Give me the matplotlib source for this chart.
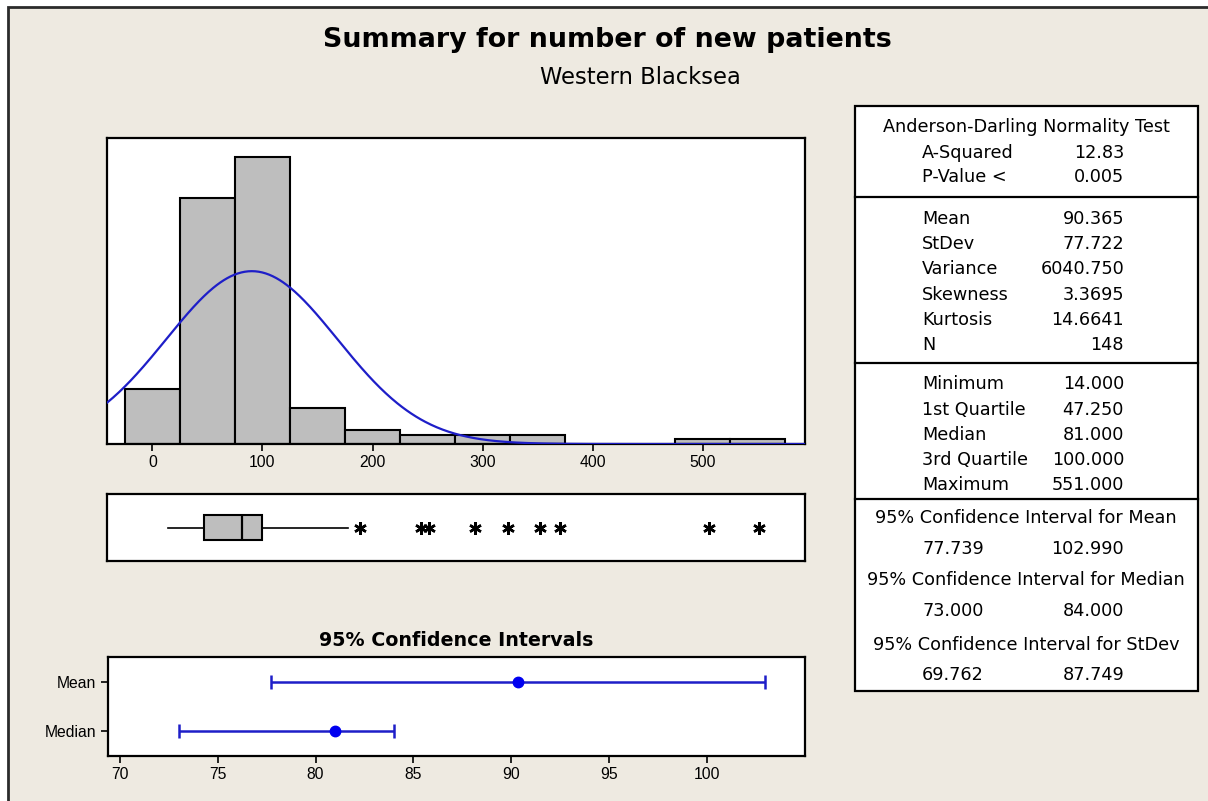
import numpy as np
import matplotlib
matplotlib.use("Agg")
import matplotlib.pyplot as plt
from matplotlib import font_manager
from matplotlib.patches import Rectangle

# ---------------- data ----------------
bin_centers = [0, 50, 100, 150, 200, 250, 300, 350, 400, 450, 500, 550]
bin_counts = [12, 54, 63, 8, 3, 2, 2, 2, 0, 0, 1, 1]
bin_width = 50
hist_ticks = [0, 100, 200, 300, 400, 500]

n_obs = 148
mean_val = 90.365
sd_val = 77.722

box_min = 14.0
box_q1 = 47.25
box_med = 81.0
box_q3 = 100.0
box_whis_hi = 178.0
box_outliers = [189, 244, 251, 293, 323, 352, 370, 506, 551]

ci_labels = ["Mean", "Median"]
ci_centers = [90.365, 81.0]
ci_low = [77.739, 73.0]
ci_high = [102.990, 84.0]
ci_ticks = [70, 75, 80, 85, 90, 95, 100]

ad_rows = [("A-Squared", "12.83"), ("P-Value <", "0.005")]
moment_rows = [("Mean", "90.365"), ("StDev", "77.722"), ("Variance", "6040.750"),
               ("Skewness", "3.3695"), ("Kurtosis", "14.6641"), ("N", "148")]
quant_rows = [("Minimum", "14.000"), ("1st Quartile", "47.250"), ("Median", "81.000"),
              ("3rd Quartile", "100.000"), ("Maximum", "551.000")]
ci_rows = [("95% Confidence Interval for Mean", "77.739", "102.990"),
           ("95% Confidence Interval for Median", "73.000", "84.000"),
           ("95% Confidence Interval for StDev", "69.762", "87.749")]

title = "Summary for number of new patients"
subtitle = "Western Blacksea"
ci_title = "95% Confidence Intervals"

# ---------------- style ----------------
names = {f.name for f in font_manager.fontManager.ttflist}
if "Liberation Sans Narrow" in names:
    narrow, nfs = "Liberation Sans Narrow", 12.5
elif "Liberation Sans" in names:
    narrow, nfs = "Liberation Sans", 11.3
else:
    narrow, nfs = "DejaVu Sans", 10
BG = "#EEEAE1"
GRAY = "#BEBEBE"
BLUE = "#1E1EC8"

W, H = 1208, 801
fig = plt.figure(figsize=(W / 100, H / 100), dpi=100, facecolor="white")


def rect(l, t, r, b):
    return [l / W, 1 - b / H, (r - l) / W, (b - t) / H]


# background overlay axes in pixel coordinates
bg = fig.add_axes([0, 0, 1, 1], zorder=-1)
bg.set_xlim(0, W)
bg.set_ylim(H, 0)
bg.axis("off")
bg.add_patch(Rectangle((8, 7), W + 20, H + 20, facecolor=BG, edgecolor="#2b2b2b", lw=2))

bg.text(607, 40, title, ha="center", va="center", fontsize=19.4, fontweight="bold",
        family="DejaVu Sans", color="black")
bg.text(640, 78, subtitle, ha="center", va="center", fontsize=16.3,
        family="DejaVu Sans", color="black")
bg.text(456, 641, ci_title, ha="center", va="center", fontsize=13.7, fontweight="bold",
        family="DejaVu Sans", color="black")

# table
tl, tr, tt, tb = 855, 1197.5, 106, 691
bg.add_patch(Rectangle((tl, tt), tr - tl, tb - tt, facecolor="white", edgecolor="black", lw=1.6))
for yd in (197, 363, 499):
    bg.plot([tl, tr], [yd, yd], color="black", lw=1.6)
tc = (tl + tr) / 2
lab_x, val_x = 922, 1124
fs_t = 12.7
bg.text(tc, 127, "Anderson-Darling Normality Test", ha="center", va="center", fontsize=fs_t)
for (lab, val), y in zip(ad_rows, [153, 177]):
    bg.text(lab_x, y, lab, ha="left", va="center", fontsize=fs_t)
    bg.text(val_x, y, val, ha="right", va="center", fontsize=fs_t)
for (lab, val), y in zip(moment_rows, [219, 244, 269, 295, 320, 345]):
    bg.text(lab_x, y, lab, ha="left", va="center", fontsize=fs_t)
    bg.text(val_x, y, val, ha="right", va="center", fontsize=fs_t)
for (lab, val), y in zip(quant_rows, [384, 410, 435, 460, 485]):
    bg.text(lab_x, y, lab, ha="left", va="center", fontsize=fs_t)
    bg.text(val_x, y, val, ha="right", va="center", fontsize=fs_t)
for (lab, lo, hi), (yh, yv) in zip(ci_rows, [(518, 549), (580, 611), (645, 675)]):
    bg.text(tc, yh, lab, ha="center", va="center", fontsize=fs_t)
    bg.text(lab_x, yv, lo, ha="left", va="center", fontsize=fs_t)
    bg.text(val_x, yv, hi, ha="right", va="center", fontsize=fs_t)

xlim_hist = (-40.9, 592.8)


def style_spines(ax):
    for s in ax.spines.values():
        s.set_linewidth(1.6)
        s.set_color("black")


# ---------------- histogram ----------------
axh = fig.add_axes(rect(107.3, 138, 805, 444))
axh.set_facecolor("white")
cx = [c for c, k in zip(bin_centers, bin_counts) if k > 0]
ck = [k for k in bin_counts if k > 0]
axh.bar(cx, ck, width=bin_width, color=GRAY, edgecolor="black", linewidth=1.5, zorder=2)
xs = np.linspace(xlim_hist[0], xlim_hist[1], 600)
ys = n_obs * bin_width * np.exp(-0.5 * ((xs - mean_val) / sd_val) ** 2) / (sd_val * np.sqrt(2 * np.pi))
axh.plot(xs, ys, color=BLUE, lw=1.6, zorder=3)
axh.set_xlim(*xlim_hist)
axh.set_ylim(0, 67.25)
axh.set_yticks([])
axh.set_xticks(hist_ticks)
axh.set_xticklabels([str(t) for t in hist_ticks], family=narrow, fontsize=nfs)
axh.tick_params(axis="x", direction="out", length=5, width=1.2, pad=3)
style_spines(axh)

# ---------------- boxplot ----------------
axb = fig.add_axes(rect(107.3, 494.3, 805, 560.7))
axb.set_facecolor("white")
stats = [{"med": box_med, "q1": box_q1, "q3": box_q3, "whislo": box_min,
          "whishi": box_whis_hi, "fliers": box_outliers}]
axb.bxp(stats, positions=[0.5], widths=0.377, orientation="horizontal", showcaps=False,
        patch_artist=True,
        boxprops=dict(facecolor=GRAY, edgecolor="black", linewidth=1.5),
        medianprops=dict(color="black", linewidth=1.6),
        whiskerprops=dict(color="black", linewidth=1.2),
        flierprops=dict(marker=(6, 2, 0), markersize=9, markeredgecolor="black",
                        markeredgewidth=1.8, markerfacecolor="black", linestyle="none"))
axb.set_xlim(*xlim_hist)
axb.set_ylim(0, 1)
axb.set_xticks([])
axb.set_yticks([])
style_spines(axb)

# ---------------- confidence intervals ----------------
axc = fig.add_axes(rect(107.7, 656.7, 805, 756))
axc.set_facecolor("white")
ypos = [1, 0]
for y, c, lo, hi in zip(ypos, ci_centers, ci_low, ci_high):
    axc.errorbar([c], [y], xerr=[[c - lo], [hi - c]], fmt="o", color=BLUE, ecolor=BLUE,
                 elinewidth=1.8, capsize=5, capthick=1.8, markersize=7.5,
                 markerfacecolor="#0000F0", markeredgecolor="#0000F0")
axc.set_xlim(69.37, 105.02)
axc.set_ylim(-0.523, 1.529)
axc.set_xticks(ci_ticks)
axc.set_xticklabels([str(t) for t in ci_ticks], family=narrow, fontsize=nfs)
axc.set_yticks(ypos)
axc.set_yticklabels(ci_labels, family=narrow, fontsize=nfs)
axc.tick_params(axis="both", direction="out", length=5, width=1.2, pad=3)
style_spines(axc)

fig.savefig("out.png", dpi=100, facecolor=fig.get_facecolor())
